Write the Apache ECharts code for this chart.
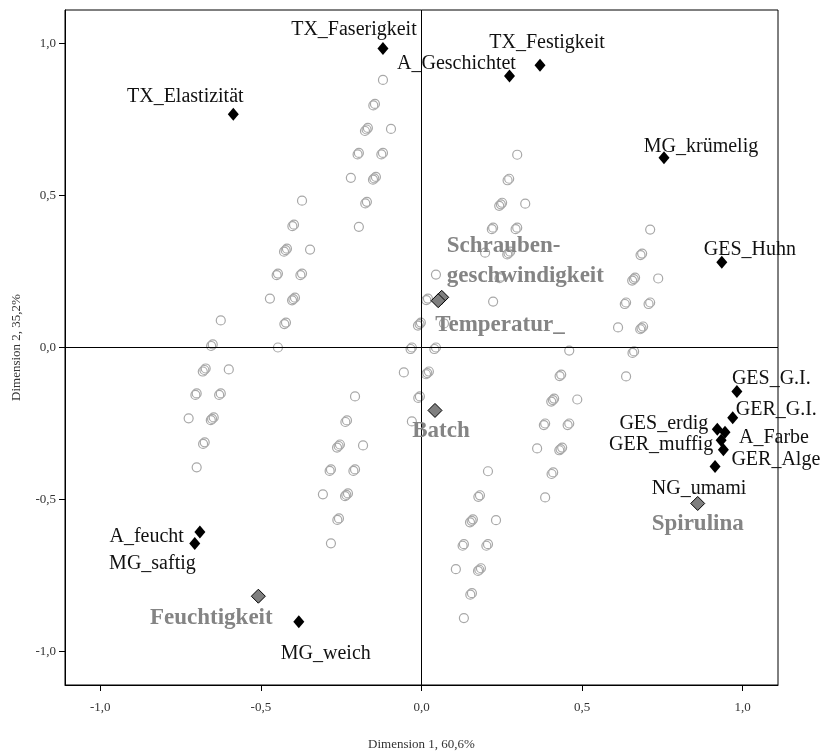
<!DOCTYPE html>
<html>
<head>
<meta charset="utf-8">
<script src="https://cdn.jsdelivr.net/npm/echarts@6/dist/echarts.min.js"></script>
<style>html,body{margin:0;padding:0;background:#fff}#c{width:825px;height:756px}</style>
</head>
<body>
<div id="c"></div>
<script>
// ---- data ----
const tickValues = [-1, -0.5, 0, 0.5, 1];
const xTitle = 'Dimension 1, 60,6%';
const yTitle = 'Dimension 2, 35,2%';

// object scores (open circles)
const objScores = [
  [-0.120,0.880],[-0.145,0.801],[-0.150,0.796],[-0.167,0.722],[-0.171,0.717],[-0.176,0.712],[-0.095,0.719],[-0.195,0.640],[-0.199,0.635],[-0.120,0.640],[-0.125,0.635],[-0.220,0.558],[-0.142,0.561],[-0.147,0.556],[-0.151,0.552],[-0.170,0.479],[-0.175,0.474],[-0.195,0.397],
  [-0.372,0.483],[-0.397,0.404],[-0.402,0.399],[-0.419,0.325],[-0.423,0.320],[-0.428,0.315],[-0.347,0.322],[-0.447,0.243],[-0.451,0.238],[-0.372,0.243],[-0.377,0.238],[-0.472,0.161],[-0.394,0.164],[-0.399,0.159],[-0.403,0.155],[-0.422,0.082],[-0.427,0.077],[-0.447,0.000],
  [-0.625,0.089],[-0.650,0.010],[-0.655,0.005],[-0.672,-0.069],[-0.676,-0.074],[-0.681,-0.079],[-0.600,-0.072],[-0.700,-0.151],[-0.704,-0.156],[-0.625,-0.151],[-0.630,-0.156],[-0.725,-0.233],[-0.647,-0.230],[-0.652,-0.235],[-0.656,-0.239],[-0.675,-0.312],[-0.680,-0.317],[-0.700,-0.394],
  [0.045,0.240],[0.020,0.161],[0.015,0.156],[-0.002,0.082],[-0.006,0.077],[-0.011,0.072],[0.070,0.079],[-0.030,0.000],[-0.034,-0.005],[0.045,0.000],[0.040,-0.005],[-0.055,-0.082],[0.023,-0.079],[0.018,-0.084],[0.014,-0.088],[-0.005,-0.161],[-0.010,-0.166],[-0.030,-0.243],
  [0.298,0.634],[0.273,0.555],[0.268,0.550],[0.251,0.476],[0.247,0.471],[0.242,0.466],[0.323,0.473],[0.223,0.394],[0.219,0.389],[0.298,0.394],[0.293,0.389],[0.198,0.312],[0.276,0.315],[0.271,0.310],[0.267,0.306],[0.248,0.233],[0.243,0.228],[0.223,0.151],
  [0.712,0.388],[0.687,0.309],[0.682,0.304],[0.665,0.230],[0.661,0.225],[0.656,0.220],[0.737,0.227],[0.637,0.148],[0.633,0.143],[0.712,0.148],[0.707,0.143],[0.612,0.066],[0.690,0.069],[0.685,0.064],[0.681,0.060],[0.662,-0.013],[0.657,-0.018],[0.637,-0.095],
  [0.460,-0.010],[0.435,-0.089],[0.430,-0.094],[0.413,-0.168],[0.409,-0.173],[0.404,-0.178],[0.485,-0.171],[0.385,-0.250],[0.381,-0.255],[0.460,-0.250],[0.455,-0.255],[0.360,-0.332],[0.438,-0.329],[0.433,-0.334],[0.429,-0.338],[0.410,-0.411],[0.405,-0.416],[0.385,-0.493],
  [0.207,-0.407],[0.182,-0.486],[0.177,-0.491],[0.160,-0.565],[0.156,-0.570],[0.151,-0.575],[0.232,-0.568],[0.132,-0.647],[0.128,-0.652],[0.207,-0.647],[0.202,-0.652],[0.107,-0.729],[0.185,-0.726],[0.180,-0.731],[0.176,-0.735],[0.157,-0.808],[0.152,-0.813],[0.132,-0.890],
  [-0.207,-0.161],[-0.232,-0.240],[-0.237,-0.245],[-0.254,-0.319],[-0.258,-0.324],[-0.263,-0.329],[-0.182,-0.322],[-0.282,-0.401],[-0.286,-0.406],[-0.207,-0.401],[-0.212,-0.406],[-0.307,-0.483],[-0.229,-0.480],[-0.234,-0.485],[-0.238,-0.489],[-0.257,-0.562],[-0.262,-0.567],[-0.282,-0.644]
];

// category points of the attributes (black diamonds)
const varNames = ['TX_Faserigkeit','A_Geschichtet','TX_Festigkeit','TX_Elastizität','MG_krümelig','GES_Huhn','GES_G.I.','GER_G.I.','GES_erdig','A_Farbe','GER_muffig','GER_Alge','NG_umami','A_feucht','MG_saftig','MG_weich'];
const varX = [-0.120, 0.274, 0.369, -0.586, 0.755, 0.935, 0.982, 0.969, 0.921, 0.945, 0.933, 0.940, 0.914, -0.690, -0.706, -0.382];
const varY = [0.983, 0.893, 0.928, 0.767, 0.624, 0.280, -0.145, -0.231, -0.269, -0.279, -0.305, -0.336, -0.391, -0.607, -0.645, -0.902];

// supplementary factors (grey diamonds)
const supNames = ['Schrauben-\ngeschwindigkeit', 'Temperatur_', 'Batch', 'Feuchtigkeit', 'Spirulina'];
const supX = [0.063, 0.052, 0.042, -0.508, 0.860];
const supY = [0.165, 0.154, -0.207, -0.818, -0.513];

// ---- label layout (pixel offsets, not data) ----
const varLabelLayout = {
  'TX_Faserigkeit': [-29, -19, 'center'],
  'A_Geschichtet': [-53, -12, 'center'],
  'TX_Festigkeit': [7, -23, 'center'],
  'TX_Elastizität': [-48, -18, 'center'],
  'MG_krümelig': [37, -11, 'center'],
  'GES_Huhn': [-18, -13, 'left'],
  'GES_G.I.': [-5, -13, 'left'],
  'GER_G.I.': [3, -8, 'left'],
  'GES_erdig': [-9, -6, 'right'],
  'A_Farbe': [14, 5, 'left'],
  'GER_muffig': [-8, 5, 'right'],
  'GER_Alge': [8, 10, 'left'],
  'NG_umami': [-16, 22, 'center'],
  'A_feucht': [-16, 5, 'right'],
  'MG_saftig': [1, 20, 'right'],
  'MG_weich': [27, 32, 'center']
};
const supLabelLayout = [
  [5, -36, 'left'],
  [-3, 24, 'left'],
  [6, 21, 'center'],
  [-47, 22, 'center'],
  [0, 21, 'center']
];

const FONT = 'Liberation Serif';
const fmt = v => v.toFixed(1).replace('.', ',');

const varData = varNames.map((n, i) => {
  const l = varLabelLayout[n];
  return { name: n, value: [varX[i], varY[i]],
    label: { offset: [l[0], l[1]], align: l[2] } };
});
const supData = supNames.map((n, i) => {
  const l = supLabelLayout[i];
  return { name: n, value: [supX[i], supY[i]],
    label: { offset: [l[0], l[1]], align: l[2] } };
});

const axisCommon = {
  type: 'value', min: -1.11, max: 1.11,
  splitLine: { show: false },
  axisLine: { show: true, onZero: false, lineStyle: { color: '#000', width: 1 } },
  axisTick: { show: true, length: 6, customValues: tickValues, lineStyle: { color: '#000' } },
  axisLabel: { customValues: tickValues, formatter: fmt, color: '#333', fontFamily: FONT, fontSize: 13 },
  nameLocation: 'middle',
  nameTextStyle: { color: '#333', fontFamily: FONT, fontSize: 13 }
};

const chart = echarts.init(document.getElementById('c'), null, { renderer: 'canvas' });
chart.setOption({
  animation: false,
  backgroundColor: '#fff',
  grid: { left: 65, right: 47, top: 10, bottom: 70, show: true, borderColor: '#000', borderWidth: 1 },
  xAxis: Object.assign({}, axisCommon, {
    name: xTitle, nameGap: 53,
    axisLabel: Object.assign({}, axisCommon.axisLabel, { margin: 16 })
  }),
  yAxis: Object.assign({}, axisCommon, {
    name: yTitle, nameGap: 42, nameRotate: 90,
    axisLabel: Object.assign({}, axisCommon.axisLabel, { margin: 9 })
  }),
  series: [
    {
      type: 'scatter', name: 'objects', data: objScores, z: 2,
      symbol: 'circle', symbolSize: 9, silent: true,
      itemStyle: { color: 'rgba(255,255,255,0)', borderColor: '#a8a8a8', borderWidth: 1.2, opacity: 1 },
      emphasis: { disabled: true },
      markLine: {
        silent: true, symbol: ['none', 'none'], label: { show: false },
        lineStyle: { color: '#000', width: 1, type: 'solid', opacity: 1 },
        emphasis: { disabled: true },
        data: [{ xAxis: 0 }, { yAxis: 0 }]
      }
    },
    {
      type: 'scatter', name: 'variables', data: varData, z: 4,
      symbol: 'diamond', symbolSize: [11, 13], silent: true,
      itemStyle: { color: '#000', opacity: 1 },
      emphasis: { disabled: true },
      label: { show: true, position: 'inside', formatter: '{b}', verticalAlign: 'middle',
        color: '#111', fontFamily: FONT, fontSize: 20 }
    },
    {
      type: 'scatter', name: 'supplementary', data: supData, z: 5,
      symbol: 'diamond', symbolSize: [14, 14], silent: true,
      itemStyle: { color: '#7f7f7f', borderColor: '#000', borderWidth: 1, opacity: 1 },
      emphasis: { disabled: true },
      label: { show: true, position: 'inside', formatter: '{b}', verticalAlign: 'middle',
        color: '#848484', fontFamily: FONT, fontSize: 23, fontWeight: 'bold', lineHeight: 30 }
    }
  ]
});
</script>
</body>
</html>
